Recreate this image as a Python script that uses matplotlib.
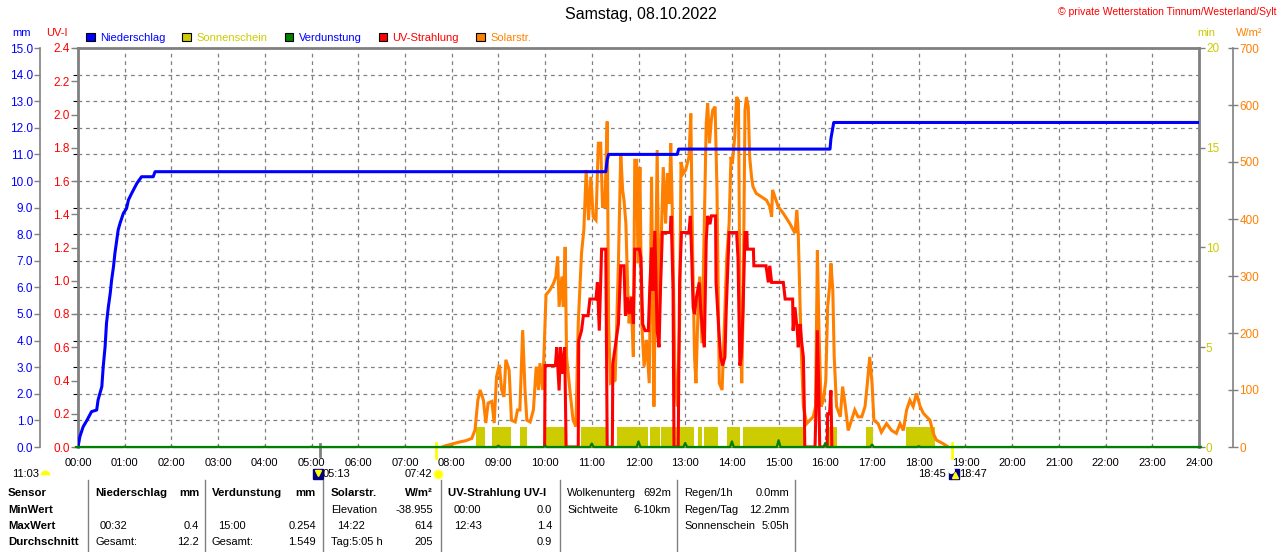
import matplotlib
matplotlib.use('Agg')
import matplotlib.pyplot as plt
import matplotlib.transforms as mtransforms
from matplotlib.patches import Patch
from matplotlib.lines import Line2D

plt.rcParams['font.family'] = ['Liberation Sans', 'DejaVu Sans']

# ---------------- data ----------------
title = "Samstag, 08.10.2022"
copyright_txt = "© private Wetterstation Tinnum/Westerland/Sylt"

hour_ticks = list(range(25))
hour_labels = ["%02d:00" % h for h in hour_ticks]

# cumulative precipitation (mm)
rain_t = [0.0, 0.04, 0.11, 0.19, 0.29, 0.40, 0.43, 0.51, 0.54, 0.58, 0.61, 0.65, 0.69, 0.72,
          0.76, 0.79, 0.83, 0.86, 0.90, 0.97, 1.04, 1.08, 1.15, 1.26, 1.36, 1.61, 1.65,
          11.30, 11.33, 11.36, 12.83, 12.86, 16.10, 16.12, 16.15, 16.18, 24.0]
rain_mm = [0.0, 0.39, 0.76, 1.0, 1.33, 1.39, 1.77, 2.27, 3.02, 3.77, 4.65, 5.27, 5.78, 6.28,
           6.78, 7.28, 7.78, 8.16, 8.41, 8.78, 8.97, 9.29, 9.54, 9.91, 10.16, 10.16, 10.35,
           10.35, 10.80, 11.0, 11.0, 11.2, 11.2, 11.6, 11.9, 12.2, 12.2]

# sunshine intervals (hours), minutes of sunshine per minute
sun_start = [8.52, 8.87, 9.46, 10.02, 10.76, 11.53, 12.25, 12.48, 13.28, 13.41, 13.89, 14.24, 16.01, 16.87, 17.73]
sun_end   = [8.71, 9.26, 9.61, 10.43, 11.32, 12.21, 12.46, 13.19, 13.37, 13.70, 14.17, 15.56, 16.24, 17.01, 18.35]
sun_min = [1] * len(sun_start)

# hourly evaporation (mm)
evap_hours = list(range(25))
evap_mm = [0.0, 0.01, 0.01, 0.01, 0.01, 0.01, 0.01, 0.01, 0.01, 0.05, 0.05, 0.13, 0.21,
           0.15, 0.21, 0.254, 0.15, 0.09, 0.03, 0.01, 0.01, 0.01, 0.01, 0.01, 0.0]

# solar radiation (W/m2)
solar_t = [7.80, 7.86, 8.00, 8.18, 8.30, 8.43, 8.50, 8.56, 8.61, 8.68, 8.73, 8.78, 8.86, 8.91,
           8.96, 9.02, 9.07, 9.12, 9.16, 9.23, 9.28, 9.36, 9.41, 9.46, 9.52, 9.57, 9.61, 9.68,
           9.75, 9.81, 9.86, 9.89, 9.95, 10.00, 10.02, 10.10, 10.18, 10.23, 10.27, 10.30, 10.36,
           10.39, 10.43, 10.46, 10.53, 10.60, 10.66, 10.71, 10.78, 10.83, 10.88, 10.93, 10.98,
           11.03, 11.09, 11.14, 11.19, 11.23, 11.28, 11.33, 11.36, 11.40, 11.50, 11.57, 11.62,
           11.66, 11.69, 11.73, 11.77, 11.80, 11.84, 11.89, 11.92, 11.96, 11.99, 12.03, 12.07,
           12.12, 12.17, 12.23, 12.28, 12.33, 12.36, 12.40, 12.44, 12.48, 12.53, 12.58, 12.62,
           12.66, 12.69, 12.73, 12.78, 12.83, 12.88, 12.91, 12.96, 13.01, 13.08, 13.12, 13.16,
           13.20, 13.23, 13.27, 13.31, 13.36, 13.41, 13.45, 13.48, 13.52, 13.56, 13.59, 13.64,
           13.68, 13.73, 13.79, 13.84, 13.89, 13.94, 13.98, 14.01, 14.06, 14.10, 14.14, 14.17,
           14.21, 14.24, 14.28, 14.31, 14.35, 14.38, 14.42, 14.45, 14.52, 14.63, 14.74, 14.81,
           14.85, 14.87, 14.92, 14.99, 15.10, 15.24, 15.35, 15.39, 15.42, 15.46, 15.49, 15.53,
           15.60, 15.67, 15.74, 15.79, 15.83, 15.86, 15.91, 15.96, 16.01, 16.05, 16.09, 16.12,
           16.16, 16.19, 16.24, 16.32, 16.37, 16.42, 16.49, 16.56, 16.63, 16.70, 16.78, 16.85,
           16.90, 16.95, 17.00, 17.04, 17.13, 17.20, 17.31, 17.42, 17.52, 17.60, 17.67, 17.74,
           17.81, 17.88, 17.95, 18.03, 18.10, 18.17, 18.24, 18.31, 18.38, 18.52, 18.63]
solar_w = [0, 2, 5, 9, 11, 15, 30, 82, 100, 82, 42, 77, 80, 42,
           123, 144, 100, 88, 153, 135, 47, 44, 65, 65, 205, 100, 47, 44,
           65, 141, 100, 147, 100, 217, 267, 275, 287, 299, 334, 246, 299,
           246, 351, 158, 100, 47, 36, 217, 340, 381, 486, 398, 474,
           404, 398, 533, 533, 422, 422, 571, 217, 112, 117, 322, 515,
           451, 433, 392, 275, 217, 264, 158, 503, 503, 322, 491, 217,
           141, 188, 112, 474, 71, 275, 521, 217, 345, 491, 392, 480,
           427, 533, 392, 123, 71, 217, 500, 480, 486, 509, 585, 334,
           158, 112, 228, 299, 182, 392, 568, 603, 533, 574, 591, 597,
           451, 112, 100, 217, 334, 392, 509, 497, 544, 614, 608, 275,
           112, 246, 591, 614, 597, 509, 474, 457, 445, 439, 433, 422,
           404, 451, 439, 422, 410, 392, 375, 416, 375, 246, 158, 71,
           41, 47, 53, 71, 345, 217, 71, 82, 117, 246, 281, 322,
           275, 158, 71, 53, 106, 77, 29, 47, 65, 53, 53, 71,
           112, 158, 112, 47, 41, 26, 41, 29, 24, 41, 29, 65,
           82, 71, 94, 71, 59, 53, 47, 24, 12, 6, 0]

# UV index
uv_t = [9.99, 10.00, 10.22, 10.25, 10.30, 10.33, 10.37, 10.42, 10.45, 10.71, 10.72, 10.78, 10.82,
        10.92, 10.96, 11.09, 11.12, 11.16, 11.19, 11.21, 11.30, 11.33, 11.44, 11.45, 11.50, 11.57,
        11.62, 11.69, 11.72, 11.76, 11.80, 11.85, 11.89, 11.92, 12.02, 12.05, 12.09, 12.14, 12.21,
        12.24, 12.28, 12.31, 12.35, 12.40, 12.44, 12.47, 12.51, 12.68, 12.70, 12.74, 12.76, 12.85,
        12.88, 12.92, 13.08, 13.11, 13.14, 13.17, 13.20, 13.24, 13.30, 13.33, 13.37, 13.41, 13.45,
        13.48, 13.53, 13.56, 13.65, 13.66, 13.72, 13.76, 13.80, 13.85, 13.88, 13.94, 14.10, 14.13,
        14.17, 14.20, 14.24, 14.28, 14.32, 14.33, 14.46, 14.47, 14.73, 14.78, 14.81, 14.85, 15.10,
        15.14, 15.30, 15.31, 15.35, 15.40, 15.42, 15.46, 15.49, 15.53, 15.55, 15.56, 15.78, 15.80,
        15.83, 15.86, 15.88, 16.04, 16.05, 16.09, 16.12, 16.14]
uv_i = [0, 0.49, 0.49, 0.60, 0.34, 0.60, 0.44, 0.60, 0, 0, 0.64, 0.70, 0.79,
        0.79, 0.89, 0.89, 0.99, 0.70, 0.99, 1.19, 1.19, 0, 0, 0.50, 0.60, 0.74,
        1.09, 1.09, 0.79, 0.90, 0.80, 0.90, 0.74, 1.19, 1.19, 1.14, 0.74, 0.70, 0.70,
        0.94, 1.20, 0.94, 1.30, 0.70, 0.60, 0.94, 1.29, 1.29, 1.39, 0.94, 0, 0,
        0.99, 1.29, 1.29, 1.39, 1.14, 0.84, 0.80, 0.90, 0.99, 0.84, 0.70, 0.60, 1.24,
        1.39, 1.34, 1.39, 1.39, 0.99, 0.70, 0.54, 0.49, 0.54, 0.84, 1.29, 1.29, 1.14,
        0.49, 0.54, 0.84, 1.29, 1.29, 1.19, 1.19, 1.09, 1.09, 0.99, 1.09, 0.99, 0.99,
        0.89, 0.89, 0.70, 0.84, 0.70, 0.60, 0.74, 0.64, 0.54, 0.24, 0, 0, 0.24,
        0.70, 0.34, 0, 0, 0.20, 0.20, 0.34, 0]

mm_ticks = list(range(16))
uv_ticks = [0.0, 0.2, 0.4, 0.6, 0.8, 1.0, 1.2, 1.4, 1.6, 1.8, 2.0, 2.2, 2.4]
min_ticks = [0, 5, 10, 15, 20]
w_ticks = [0, 100, 200, 300, 400, 500, 600, 700]

legend_labels = ["Niederschlag", "Sonnenschein", "Verdunstung", "UV-Strahlung", "Solarstr."]

day_length = "11:03"
moon_rise = "05:13"
sun_rise = "07:42"
sun_set = "18:45"
moon_set = "18:47"

table_cells = [
    # (x, row, text, ha, bold)
    (8, 0, "Sensor", 'left', True), (8, 1, "MinWert", 'left', True),
    (8, 2, "MaxWert", 'left', True), (8, 3, "Durchschnitt", 'left', True),
    (95, 0, "Niederschlag", 'left', True), (199, 0, "mm", 'right', True),
    (100, 2, "00:32", 'left', False), (199, 2, "0.4", 'right', False),
    (95, 3, "Gesamt:", 'left', False), (199, 3, "12.2", 'right', False),
    (212, 0, "Verdunstung", 'left', True), (316, 0, "mm", 'right', True),
    (218, 2, "15:00", 'left', False), (316, 2, "0.254", 'right', False),
    (212, 3, "Gesamt:", 'left', False), (316, 3, "1.549", 'right', False),
    (331, 0, "Solarstr.", 'left', True), (433, 0, "W/m²", 'right', True),
    (331, 1, "Elevation", 'left', False), (433, 1, "-38.955", 'right', False),
    (337, 2, "14:22", 'left', False), (433, 2, "614", 'right', False),
    (331, 3, "Tag:5:05 h", 'left', False), (433, 3, "205", 'right', False),
    (448, 0, "UV-Strahlung UV-I", 'left', True),
    (454, 1, "00:00", 'left', False), (552, 1, "0.0", 'right', False),
    (454, 2, "12:43", 'left', False), (552, 2, "1.4", 'right', False),
    (552, 3, "0.9", 'right', False),
    (567, 0, "Wolkenunterg", 'left', False), (671, 0, "692m", 'right', False),
    (567, 1, "Sichtweite", 'left', False), (671, 1, "6-10km", 'right', False),
    (684, 0, "Regen/1h", 'left', False), (789, 0, "0.0mm", 'right', False),
    (684, 1, "Regen/Tag", 'left', False), (789, 1, "12.2mm", 'right', False),
    (684, 2, "Sonnenschein", 'left', False), (789, 2, "5:05h", 'right', False),
]
table_rows_y = [493, 510, 526, 542]
table_seps = [88, 205, 323, 441, 560, 677, 795]

# ---------------- colours ----------------
C_BLUE = '#0000FF'
C_SUN = '#CCCC00'
C_GREEN = '#008000'
C_RED = '#FF0000'
C_ORANGE = '#FF8000'
C_GRAY = '#808080'
C_NAVY = '#000080'

W, H = 1280, 552
fig = plt.figure(figsize=(12.8, 5.52), dpi=100)


def fx(x):
    return x / W


def fy(y):
    return 1 - y / H


def hm(s):
    h, m = s.split(':')
    return int(h) + int(m) / 60.0


L, R, T, B = 78, 1199, 48, 447
ax0 = fig.add_axes([fx(L), fy(B), (R - L) / W, (B - T) / H])
ax0.set_xlim(0, 24)
ax0.set_ylim(0, 15)
ax0.set_xticks(hour_ticks)
ax0.set_xticklabels(hour_labels)
ax0.set_yticks(mm_ticks)
ax0.tick_params(axis='x', length=0, pad=8, labelsize=8)
ax0.tick_params(axis='y', left=False, labelleft=False, right=False, labelright=False)
ax0.grid(True, color=C_GRAY, linestyle=(0, (3, 3)), linewidth=0.9)
for s in ['top', 'left', 'right']:
    ax0.spines[s].set_color(C_GRAY)
    ax0.spines[s].set_linewidth(2)
ax0.spines['bottom'].set_color(C_GRAY)
ax0.spines['bottom'].set_linewidth(1)
ax0.set_zorder(0)

# sunshine axis (right, at frame)
ax_min = ax0.twinx()
ax_min.set_zorder(1)
ax_min.set_ylim(0, 20)
ax_min.set_yticks(min_ticks)
ax_min.set_yticklabels([str(v) for v in min_ticks])
ax_min.tick_params(axis='y', colors=C_GRAY, labelcolor=C_SUN, length=4, width=1, pad=1, labelsize=8.5)
for s in ax_min.spines.values():
    s.set_visible(False)
ax_min.bar(sun_start, sun_min, width=[e - s for s, e in zip(sun_start, sun_end)],
           align='edge', color=C_SUN, linewidth=0)

# solar axis (right, outward)
ax_w = ax0.twinx()
ax_w.set_zorder(2)
ax_w.set_ylim(0, 700)
ax_w.set_yticks(w_ticks)
ax_w.set_yticklabels([str(v) for v in w_ticks])
ax_w.tick_params(axis='y', colors=C_GRAY, labelcolor=C_ORANGE, direction='inout', length=7, width=1,
                 pad=1, labelsize=8.5)
for k, s in ax_w.spines.items():
    s.set_visible(k == 'right')
ax_w.spines['right'].set_position(('outward', 34 * 72 / 100))
ax_w.spines['right'].set_color(C_GRAY)
ax_w.spines['right'].set_linewidth(1.2)
ax_w.plot(solar_t, solar_w, color=C_ORANGE, linewidth=2.2, solid_joinstyle='miter')

# UV axis (left, at frame)
ax_uv = ax0.twinx()
ax_uv.set_zorder(3)
ax_uv.yaxis.tick_left()
ax_uv.set_ylim(0, 2.4)
ax_uv.set_yticks(uv_ticks)
ax_uv.set_yticklabels(["%.1f" % v for v in uv_ticks])
ax_uv.tick_params(axis='y', colors=C_GRAY, labelcolor=C_RED, length=5, width=1, pad=1, labelsize=8.5)
for s in ax_uv.spines.values():
    s.set_visible(False)
ax_uv.plot(uv_t, uv_i, color=C_RED, linewidth=2.2, solid_joinstyle='miter')

# precipitation axis (left, outward)
ax_mm = ax0.twinx()
ax_mm.set_zorder(4)
ax_mm.yaxis.tick_left()
ax_mm.set_ylim(0, 15)
ax_mm.set_yticks(mm_ticks)
ax_mm.set_yticklabels(["%.1f" % v for v in mm_ticks])
ax_mm.tick_params(axis='y', colors=C_GRAY, labelcolor=C_BLUE, length=4, width=1, pad=1, labelsize=8.5)
for k, s in ax_mm.spines.items():
    s.set_visible(k == 'left')
ax_mm.spines['left'].set_position(('outward', 38 * 72 / 100))
ax_mm.spines['left'].set_color(C_GRAY)
ax_mm.spines['left'].set_linewidth(1.2)
ax_mm.plot(rain_t, rain_mm, color=C_BLUE, linewidth=2.2)

ev_x, ev_y = [], []
for h, v in zip(evap_hours, evap_mm):
    ev_x += [h - 0.04, h, h + 0.04]
    ev_y += [0, v, 0]
ax_mm.plot(ev_x, ev_y, color=C_GREEN, linewidth=1.6, clip_on=False)

# axis unit labels
fig.text(fx(22), fy(33), "mm", color=C_BLUE, fontsize=8, ha='center', va='center')
fig.text(fx(57), fy(33), "UV-I", color=C_RED, fontsize=8, ha='center', va='center')
fig.text(fx(1206), fy(33), "min", color=C_SUN, fontsize=8, ha='center', va='center')
fig.text(fx(1249), fy(33), "W/m²", color=C_ORANGE, fontsize=8, ha='center', va='center')

# title & copyright
fig.text(fx(641), fy(15), title, fontsize=11.5, ha='center', va='center')
fig.text(fx(1276), fy(12), copyright_txt, fontsize=7.5, color=C_RED, ha='right', va='center')

# legend
leg_colors = [C_BLUE, C_SUN, C_GREEN, C_RED, C_ORANGE]
leg_text_colors = [C_BLUE, C_SUN, C_BLUE, C_RED, C_ORANGE]
handles = [Patch(facecolor=c, edgecolor='black', linewidth=0.8) for c in leg_colors]
leg = fig.legend(handles, legend_labels, loc='center left', bbox_to_anchor=(fx(86), fy(38)),
                 ncol=5, frameon=False, fontsize=8, handlelength=0.8, handleheight=0.8,
                 handletextpad=0.45, columnspacing=1.55, borderpad=0, borderaxespad=0)
for t, c in zip(leg.get_texts(), leg_text_colors):
    t.set_color(c)

# sun / moon markers under the axis
trans = mtransforms.blended_transform_factory(ax0.transData, fig.transFigure)
ax0.plot([hm(moon_rise) - 0.04] * 2, [fy(444), fy(456)], color=C_GRAY, lw=2, transform=trans, clip_on=False)
ax0.plot([hm(sun_rise) - 0.04] * 2, [fy(443), fy(458)], color='#FFFF00', lw=2, transform=trans, clip_on=False)
ax0.plot([hm(sun_set) - 0.04] * 2, [fy(443), fy(458)], color='#FFFF00', lw=2, transform=trans, clip_on=False)

fig.text(fx(12), fy(474), day_length, fontsize=8, ha='left', va='center')
fig.add_artist(Line2D([fx(45)], [fy(475)], marker='o', markersize=7, color='#FFFF00',
                      fillstyle='top', markerfacecoloralt='white', markeredgewidth=0))
# moon rise icon
ax0.plot([hm(moon_rise) - 0.08], [fy(474)], marker='s', markersize=7, color=C_NAVY,
         transform=trans, clip_on=False)
ax0.plot([hm(moon_rise) - 0.08], [fy(473)], marker='v', markersize=4, color='#FFFF00',
         transform=trans, clip_on=False)
fig.text(fx(323), fy(474), moon_rise, fontsize=8, ha='left', va='center')
# sun rise icon
ax0.plot([hm(sun_rise)], [fy(474)], marker='o', markersize=6.5, color='#FFFF00',
         markeredgecolor='#FFFF80', transform=trans, clip_on=False)
fig.text(fx(432), fy(474), sun_rise, fontsize=8, ha='right', va='center')
# sun set / moon set icons
fig.text(fx(946), fy(474), sun_set, fontsize=8, ha='right', va='center')
ax0.plot([hm(moon_set) - 0.03], [fy(474)], marker='s', markersize=7, color=C_NAVY,
         transform=trans, clip_on=False)
ax0.plot([hm(moon_set) - 0.01], [fy(475)], marker='^', markersize=4, color='#FFFF00',
         transform=trans, clip_on=False)
ax0.plot([hm(sun_set) - 0.06], [fy(470)], marker='o', markersize=4, color='white',
         transform=trans, clip_on=False)
fig.text(fx(959), fy(474), moon_set, fontsize=8, ha='left', va='center')

# bottom table
for x in table_seps:
    fig.add_artist(Line2D([fx(x), fx(x)], [fy(480), fy(552)], color=C_GRAY, lw=1))
for x, row, txt, ha, bold in table_cells:
    fig.text(fx(x), fy(table_rows_y[row]), txt, fontsize=8.2 if bold else 8,
             fontweight='bold' if bold else 'normal', ha=ha, va='center')

fig.savefig('out.png', dpi=100)
